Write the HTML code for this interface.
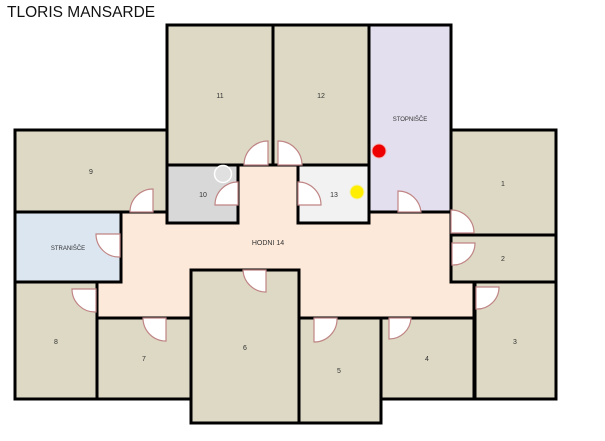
<!DOCTYPE html>
<html><head><meta charset="utf-8"><style>
html,body{margin:0;padding:0;background:#fff;width:605px;height:441px;overflow:hidden}
svg{display:block}
text{font-family:"Liberation Sans",sans-serif;fill:#333}
</style></head><body>
<svg width="605" height="441" viewBox="0 0 605 441" xmlns="http://www.w3.org/2000/svg">
<text x="7" y="17" font-size="15.5" fill="#111" style="fill:#111">TLORIS MANSARDE</text>
<!-- corridor -->
<polygon points="237,165 299,165 299,212 451,212 451,282 474,282 474,317 97,317 97,282 121,282 121,212 237,212" fill="#fde9d9"/>
<g stroke="#000" stroke-width="3">
<rect x="167" y="25" width="106" height="140" fill="#ddd9c4"/>
<rect x="273" y="25" width="96" height="140" fill="#ddd9c4"/>
<rect x="369" y="25" width="82" height="187" fill="#e4dfee"/>
<rect x="15" y="130" width="152" height="82" fill="#ddd9c4"/>
<rect x="167" y="165" width="71" height="58" fill="#d8d8d8"/>
<rect x="298" y="165" width="71" height="58" fill="#f2f2f2"/>
<rect x="451" y="130" width="105" height="105" fill="#ddd9c4"/>
<rect x="451" y="235" width="105" height="47" fill="#ddd9c4"/>
<rect x="15" y="212" width="106" height="70" fill="#dce6f1"/>
<rect x="15" y="282" width="82" height="117" fill="#ddd9c4"/>
<rect x="97" y="318" width="94" height="81" fill="#ddd9c4"/>
<rect x="191" y="270" width="108" height="153" fill="#ddd9c4"/>
<rect x="299" y="318" width="82" height="105" fill="#ddd9c4"/>
<rect x="381" y="318" width="93" height="81" fill="#ddd9c4"/>
<rect x="475" y="282" width="81" height="117" fill="#ddd9c4"/>
</g>
<!-- corridor outline segments -->
<g stroke="#000" stroke-width="3" fill="none">
<polyline points="97,282 97,317"/>
<polyline points="474,282 474,317"/>
</g>
<!-- doors -->
<g fill="#fff" stroke="#c08585" stroke-width="1.2">
<path d="M268,165 L268,141 A24,24 0 0 0 244,165 Z"/>
<path d="M278,165 L278,141 A24,24 0 0 1 302,165 Z"/>
<path d="M238,205 L238,182 A23,23 0 0 0 215,205 Z"/>
<path d="M298,205 L298,182 A23,23 0 0 1 321,205 Z"/>
<path d="M153,212 L153,189 A23,23 0 0 0 130,212 Z"/>
<path d="M398,212 L398,191 A23,23 0 0 1 421,212 Z"/>
<path d="M451,233 L474,233 A23,23 0 0 0 451,210 Z"/>
<path d="M452,243 L475,243 A22,22 0 0 1 452,265 Z"/>
<path d="M476,287 L499,287 A22,22 0 0 1 476,309 Z"/>
<path d="M120,234 L96,234 A23,23 0 0 0 120,257 Z"/>
<path d="M96,289 L72,289 A23,23 0 0 0 96,312 Z"/>
<path d="M166,318 L166,341 A23,23 0 0 1 143,318 Z"/>
<path d="M266,270 L266,292 A23,23 0 0 1 243,270 Z"/>
<path d="M314,318 L314,342 A23,23 0 0 0 337,318 Z"/>
<path d="M389,318 L389,339 A22,22 0 0 0 411,318 Z"/>
</g>
<circle cx="223" cy="174" r="8.5" fill="#e0e0e0" stroke="#fff" stroke-width="1.5"/>
<circle cx="379" cy="151" r="7" fill="#ee0000" stroke="#f4b0b0" stroke-width="1"/>
<circle cx="357" cy="192" r="7" fill="#ffee00" stroke="#f4f0b0" stroke-width="1"/>
<g font-size="7" text-anchor="middle">
<text x="220" y="98">11</text>
<text x="321" y="98">12</text>
<text x="410" y="121" font-size="6">STOPNIŠČE</text>
<text x="91" y="174">9</text>
<text x="203" y="197">10</text>
<text x="334" y="197">13</text>
<text x="503" y="186">1</text>
<text x="268" y="245">HODNI  14</text>
<text x="68" y="250" font-size="6">STRANIŠČE</text>
<text x="503" y="261">2</text>
<text x="56" y="344">8</text>
<text x="144" y="361">7</text>
<text x="245" y="350">6</text>
<text x="339" y="373">5</text>
<text x="427" y="361">4</text>
<text x="515" y="344">3</text>
</g>
</svg>
</body></html>
